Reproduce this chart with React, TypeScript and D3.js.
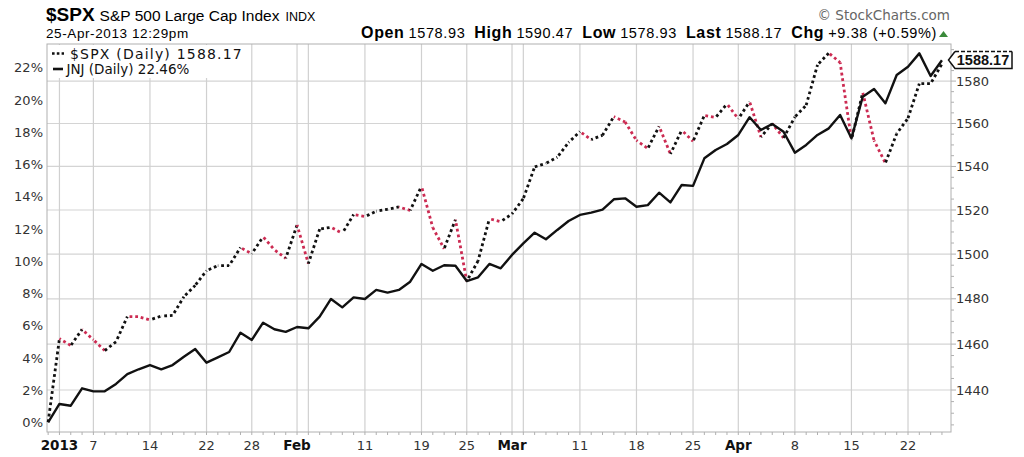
import React from "react";
import * as d3 from "d3";

// ---------- DATA ----------
const dec2012Days = [31];
const jan2013Days = [2, 3, 4, 7, 8, 9, 10, 11, 14, 15, 16, 17, 18, 22, 23, 24, 25, 28, 29, 30, 31];
const feb2013Days = [1, 4, 5, 6, 7, 8, 11, 12, 13, 14, 15, 19, 20, 21, 22, 25, 26, 27, 28];
const mar2013Days = [1, 4, 5, 6, 7, 8, 11, 12, 13, 14, 15, 18, 19, 20, 21, 22, 25, 26, 27, 28];
const apr2013Days = [1, 2, 3, 4, 5, 8, 9, 10, 11, 12, 15, 16, 17, 18, 19, 22, 23, 24, 25];

// $SPX daily close (right axis, log scale)
const spxClose = [
  1426.19,
  1462.42, 1459.37, 1466.47, 1461.89, 1457.15, 1461.02, 1472.12, 1472.05, 1470.68, 1472.34,
  1472.63, 1480.94, 1485.98, 1492.56, 1494.81, 1494.82, 1502.96, 1500.18, 1507.84, 1501.96, 1498.11,
  1513.17, 1495.71, 1511.29, 1512.12, 1509.39, 1517.93, 1517.01, 1519.43, 1520.33, 1521.38,
  1519.79, 1530.94, 1511.95, 1502.42, 1515.6, 1487.85, 1496.94, 1515.99, 1514.68,
  1518.2, 1525.2, 1539.79, 1541.46, 1544.26, 1551.18, 1556.22, 1552.48, 1554.52, 1563.23,
  1560.7, 1552.1, 1548.34, 1558.71, 1545.8, 1556.89, 1551.69, 1563.77, 1562.85, 1569.19,
  1562.17, 1570.25, 1553.69, 1559.98, 1553.28, 1563.07, 1568.61, 1587.73, 1593.37, 1588.85,
  1552.36, 1574.57, 1552.01, 1541.61, 1555.25, 1562.5, 1578.78, 1578.79, 1588.17,
];

// JNJ performance in % (left axis)
const jnjPct = [
  0,
  1.15, 1.04, 2.12, 1.93, 1.93, 2.39, 3.0, 3.3, 3.56, 3.3,
  3.56, 4.08, 4.55, 3.71, 4.04, 4.37, 5.57, 5.12, 6.19, 5.78, 5.62,
  5.92, 5.84, 6.56, 7.66, 7.14, 7.76, 7.66, 8.22, 8.05, 8.22,
  8.73, 9.83, 9.41, 9.75, 9.72, 8.77, 9.0, 9.83, 9.56,
  10.39, 11.11, 11.77, 11.36, 11.94, 12.49, 12.87, 13.01, 13.2, 13.84,
  13.9, 13.38, 13.48, 14.25, 13.65, 14.73, 14.67, 16.38, 16.9, 17.27,
  17.83, 18.93, 18.14, 18.51, 18.03, 16.73, 17.21, 17.83, 18.24, 19.07,
  17.62, 20.2, 20.68, 19.79, 21.55, 22.06, 22.89, 21.49, 22.46,
];

const tickDates = [
  "2013-01-02", "2013-01-07", "2013-01-14", "2013-01-22", "2013-01-28",
  "2013-02-01", "2013-02-11", "2013-02-19", "2013-02-25",
  "2013-03-01", "2013-03-11", "2013-03-18", "2013-03-25",
  "2013-04-01", "2013-04-08", "2013-04-15", "2013-04-22",
];
const tickLabels = ["2013", "7", "14", "22", "28", "Feb", "11", "19", "25", "Mar", "11", "18", "25", "Apr", "8", "15", "22"];
const boldTickLabels = ["2013", "Feb", "Mar", "Apr"];
const extraGridDates = ["2013-02-04", "2013-03-04"];

const leftTicks = [0, 2, 4, 6, 8, 10, 12, 14, 16, 18, 20, 22];
const rightTicks = [1440, 1460, 1480, 1500, 1520, 1540, 1560, 1580];

const titleSymbol = "$SPX";
const titleName = "S&P 500 Large Cap Index";
const titleExchange = "INDX";
const timestamp = "25-Apr-2013 12:29pm";
const quoteLabels = ["Open", "High", "Low", "Last", "Chg"];
const quoteValues = ["1578.93", "1590.47", "1578.93", "1588.17", "+9.38 (+0.59%)"];
const copyright = "© StockCharts.com";
const legendSpx = "$SPX (Daily) 1588.17";
const legendJnj = "JNJ (Daily) 22.46%";
const lastLabel = "1588.17";

// ---------- BUILD ----------
const pad = (n: number) => (n < 10 ? "0" + n : "" + n);
const dates: string[] = [
  ...dec2012Days.map((d) => `2012-12-${pad(d)}`),
  ...jan2013Days.map((d) => `2013-01-${pad(d)}`),
  ...feb2013Days.map((d) => `2013-02-${pad(d)}`),
  ...mar2013Days.map((d) => `2013-03-${pad(d)}`),
  ...apr2013Days.map((d) => `2013-04-${pad(d)}`),
];

const W = 1024;
const H = 457;
const L = 47;
const R = 951;
const T = 44;
const B = 432;
const FONT = "DejaVu Sans, Verdana, sans-serif";
const RED = "#cc2b52";

export default function App() {
  const n = dates.length;
  const x = d3.scaleLinear().domain([-0.1, n - 0.2]).range([L, R]);
  const yL = d3.scaleLinear().domain([-0.59, 23.47]).range([B, T]);
  const yR = d3.scaleLog().domain([1421.96, 1597.7]).range([B, T]);
  const idx = (d: string) => dates.indexOf(d);

  const jnjLine = d3
    .line<number>()
    .x((_, i) => x(i))
    .y((v) => yL(v))(jnjPct) as string;

  // SPX dotted segments colored up/down, dash continuous
  const segs: { x1: number; y1: number; x2: number; y2: number; c: string; off: number }[] = [];
  let cum = 0;
  for (let i = 1; i < n; i++) {
    const x1 = x(i - 1), y1 = yR(spxClose[i - 1]);
    const x2 = x(i), y2 = yR(spxClose[i]);
    const len = Math.hypot(x2 - x1, y2 - y1);
    segs.push({ x1, y1, x2, y2, c: spxClose[i] >= spxClose[i - 1] ? "#111" : RED, off: -cum });
    cum += len;
  }

  const gridIdx = [...tickDates, ...extraGridDates].map(idx);
  const lastY = yR(spxClose[n - 1]) - 4;

  const rightMinor: number[] = [];
  for (let v = 1425; v <= 1595; v += 5) rightMinor.push(v);

  return (
    <svg width={W} height={H} style={{ position: "absolute", left: 0, top: 0, background: "#fff" }} fontFamily={FONT}>
      <rect x={0} y={0} width={W} height={H} fill="#fff" />
      {/* header */}
      <text x={46} y={20.5} fontFamily="Liberation Sans, Arial, sans-serif">
        <tspan fontWeight="bold" fontSize={19}>{titleSymbol}</tspan>
        <tspan fontSize={15.5} dx={5}>{titleName}</tspan>
        <tspan fontSize={12.5} dx={6}>{titleExchange}</tspan>
      </text>
      <text x={46} y={37.5} fontSize={13.5} fontFamily="Liberation Sans, Arial, sans-serif" letterSpacing={0.6}>{timestamp}</text>
      <text x={937} y={38} textAnchor="end" fontSize={14.5} fontFamily="Liberation Sans, Arial, sans-serif" letterSpacing={0.63}>
        {quoteLabels.map((lab, i) => (
          <React.Fragment key={lab}>
            <tspan fontWeight="bold" fontSize={16} dx={i === 0 ? 0 : 9}>{lab}</tspan>
            <tspan dx={4}>{quoteValues[i]}</tspan>
          </React.Fragment>
        ))}
      </text>
      <path d="M939,37 L948,37 L943.5,31 Z" fill="#3a8a3a" />
      <text x={950} y={20} textAnchor="end" fontSize={13.5} fill="#666">{copyright}</text>

      {/* grid */}
      {rightTicks.map((v) => (
        <line key={"h" + v} x1={L} x2={R} y1={yR(v)} y2={yR(v)} stroke="#d4d4d4" strokeWidth={1.2} />
      ))}
      {gridIdx.map((i) => (
        <line key={"v" + i} x1={x(i)} x2={x(i)} y1={T} y2={B} stroke="#d0d0d0" strokeWidth={1.2} />
      ))}

      {/* legend background */}
      <rect x={L + 1} y={T + 1} width={197} height={33} fill="#fff" />

      {/* frame */}
      <rect x={L} y={T} width={R - L} height={B - T} fill="none" stroke="#b0b0b0" strokeWidth={1} />

      {/* bottom minor ticks */}
      {dates.map((_, i) => (
        <line key={"bt" + i} x1={x(i)} x2={x(i)} y1={B} y2={B + 3} stroke="#b0b0b0" />
      ))}
      {/* right ticks */}
      {rightMinor.map((v) => (
        <line key={"rt" + v} x1={R} x2={R + (v % 20 === 0 ? 5 : 3)} y1={yR(v)} y2={yR(v)} stroke="#b0b0b0" />
      ))}

      {/* left axis */}
      {leftTicks.map((v) => (
        <text key={"l" + v} x={43} y={yL(v)} dy="0.36em" textAnchor="end" fontSize={13} fill="#333">{v}%</text>
      ))}
      {/* right axis */}
      {rightTicks.map((v) => (
        <text key={"r" + v} x={956} y={yR(v)} dy="0.36em" fontSize={13} fill="#333">{v}</text>
      ))}
      {/* bottom axis */}
      {tickDates.map((d, k) => {
        const bold = boldTickLabels.includes(tickLabels[k]);
        return (
          <text key={"b" + d} x={x(idx(d))} y={449.5} textAnchor="middle" fontSize={bold ? 13.5 : 13}
            fontWeight={bold ? "bold" : "normal"} fill={bold ? "#111" : "#333"}>
            {tickLabels[k]}
          </text>
        );
      })}

      {/* SPX dotted */}
      {segs.map((s, i) => (
        <line key={"s" + i} x1={s.x1} y1={s.y1} x2={s.x2} y2={s.y2} stroke={s.c} strokeWidth={2.8}
          strokeDasharray="2.8 2.9" strokeDashoffset={s.off} />
      ))}
      {/* JNJ line */}
      <path d={jnjLine} fill="none" stroke="#111" strokeWidth={2.4} strokeLinejoin="round" />

      {/* legend */}
      <line x1={52} x2={64} y1={53.5} y2={53.5} stroke="#111" strokeWidth={2.6} strokeDasharray="2.6 2.2" />
      <text x={70} y={58.5} fontSize={14} letterSpacing={1.2} fill="#111">{legendSpx}</text>
      <line x1={53} x2={63} y1={69} y2={69} stroke="#111" strokeWidth={2.6} />
      <text x={66.5} y={73.5} fontSize={13.5} fill="#111">{legendJnj}</text>

      {/* last value tag */}
      <path
        d={`M${R + 4},${lastY - 8.5} L${R - 2.5},${lastY} L${R + 4},${lastY + 8.5} L${1012},${lastY + 8.5} L${1012},${lastY - 8.5}`}
        fill="#fff" stroke="#111" strokeWidth={1.5} />
      <line x1={R + 4} x2={1012} y1={lastY - 8.5} y2={lastY - 8.5} stroke="#111" strokeWidth={1.5} strokeDasharray="4 2" />
      <text x={983} y={lastY} dy="0.36em" textAnchor="middle" fontSize={14.5} fontWeight="bold"
        fontFamily="Liberation Sans, Arial, sans-serif" fill="#111">{lastLabel}</text>
    </svg>
  );
}
